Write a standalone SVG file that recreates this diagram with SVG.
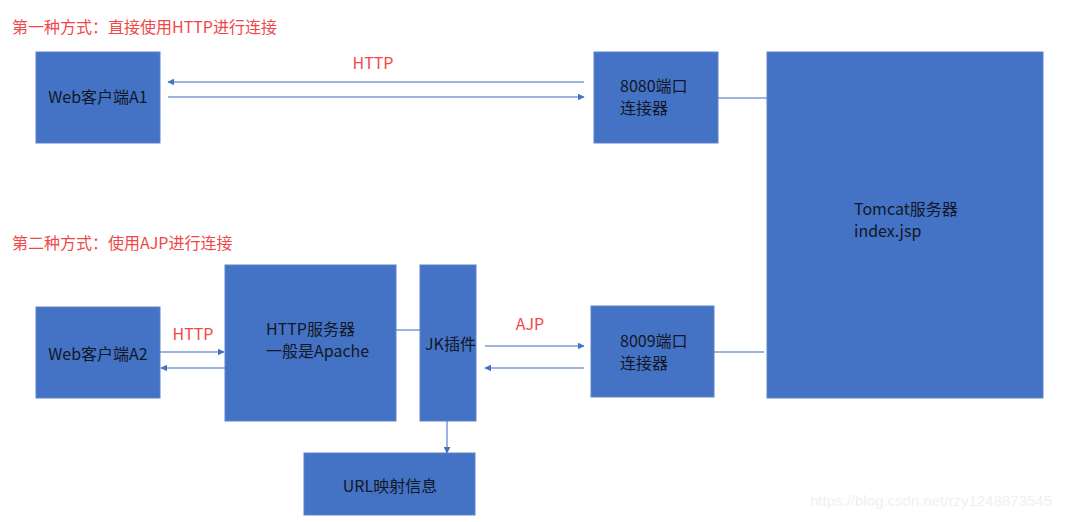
<svg xmlns="http://www.w3.org/2000/svg" width="1074" height="522" viewBox="0 0 1074 522">
<style>
.box{fill:#4472C4;stroke:#5b84cc;stroke-width:1}
.t{font-family:"Noto Sans CJK SC","Liberation Sans",sans-serif;font-size:16px;fill:#111827}
.red{font-family:"Noto Sans CJK SC","Liberation Sans",sans-serif;font-size:16px;fill:#f04848}
.wm{font-family:"Liberation Sans",sans-serif;font-size:15px;fill:#f0f0f0}
.c{stroke:#7d9ad6;stroke-width:1.5;fill:none}
</style>
<defs>
<marker id="ah" viewBox="0 0 10 10" refX="9" refY="5" markerWidth="7" markerHeight="7" markerUnits="userSpaceOnUse" orient="auto">
<path d="M0,0 L10,5 L0,10 z" fill="#4472C4"/>
</marker>
</defs>
<rect width="1074" height="522" fill="#ffffff"/>
<text class="red" x="12" y="33">第一种方式：直接使用HTTP进行连接</text>
<text class="red" x="12" y="249">第二种方式：使用AJP进行连接</text>
<text class="red" x="373" y="69" text-anchor="middle">HTTP</text>
<text class="red" x="193" y="340" text-anchor="middle">HTTP</text>
<text class="red" x="530" y="330" text-anchor="middle">AJP</text>
<g id="connectors">
<line class="c" x1="584" y1="82" x2="168" y2="82" marker-end="url(#ah)"/>
<line class="c" x1="168" y1="97" x2="584" y2="97" marker-end="url(#ah)"/>
<line class="c" x1="718" y1="98" x2="767" y2="98"/>
<line class="c" x1="160" y1="352" x2="224" y2="352" marker-end="url(#ah)"/>
<line class="c" x1="225" y1="368" x2="161" y2="368" marker-end="url(#ah)"/>
<line class="c" x1="396" y1="330" x2="420" y2="330"/>
<line class="c" x1="485" y1="346" x2="584" y2="346" marker-end="url(#ah)"/>
<line class="c" x1="584" y1="368" x2="485" y2="368" marker-end="url(#ah)"/>
<line class="c" x1="714" y1="352" x2="764" y2="352"/>
<line class="c" x1="447" y1="421" x2="447" y2="453" marker-end="url(#ah)"/>
</g>
<g id="webA1">
<rect class="box" x="36" y="52" width="124" height="91"/>
<text class="t" x="98" y="103" text-anchor="middle">Web客户端A1</text>
</g>
<g id="port8080">
<rect class="box" x="594" y="52" width="124" height="91"/>
<text class="t" x="620" y="92">8080端口</text>
<text class="t" x="620" y="114">连接器</text>
</g>
<g id="tomcat">
<rect class="box" x="767" y="52" width="276" height="346"/>
<text class="t" x="854" y="215">Tomcat服务器</text>
<text class="t" x="854" y="237">index.jsp</text>
</g>
<g id="webA2">
<rect class="box" x="36" y="307" width="124" height="91"/>
<text class="t" x="98" y="360" text-anchor="middle">Web客户端A2</text>
</g>
<g id="httpServer">
<rect class="box" x="225" y="265" width="171" height="156"/>
<text class="t" x="266" y="335">HTTP服务器</text>
<text class="t" x="266" y="357">一般是Apache</text>
</g>
<g id="jk">
<rect class="box" x="420" y="265" width="56" height="156"/>
<text class="t" x="425" y="350">JK插件</text>
</g>
<g id="port8009">
<rect class="box" x="591" y="306" width="123" height="91"/>
<text class="t" x="620" y="347">8009端口</text>
<text class="t" x="620" y="369">连接器</text>
</g>
<g id="url">
<rect class="box" x="304" y="453" width="171" height="62"/>
<text class="t" x="390" y="492" text-anchor="middle">URL映射信息</text>
</g>
<text class="wm" x="810" y="506">https://blog.csdn.net/rzy1248873545</text>
</svg>
